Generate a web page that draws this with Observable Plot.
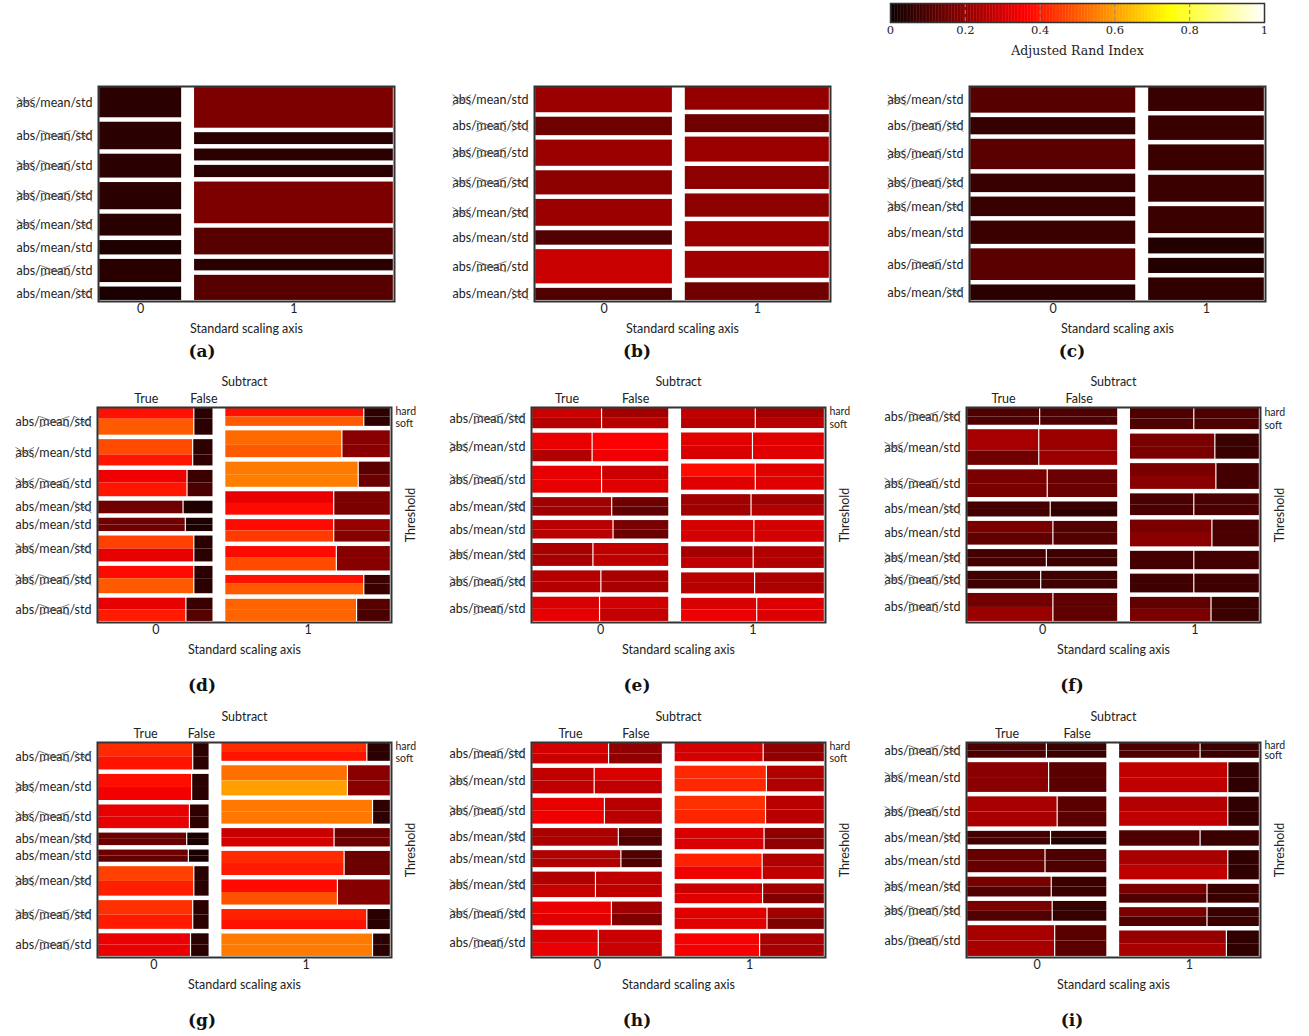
<!DOCTYPE html>
<html>
<head>
<meta charset="utf-8">
<script src="https://cdn.jsdelivr.net/npm/d3@7"></script>
<script src="https://cdn.jsdelivr.net/npm/@observablehq/plot@0.6"></script>
<style>
  body { margin: 0; background: #fff; }
  #page { position: relative; width: 1309px; height: 1036px; overflow: hidden; background: #fff; }
  #page svg { position: absolute; overflow: visible; }
  .cap { position: absolute; font-family: "DejaVu Serif", serif; font-weight: bold; font-size: 17px; color: #111;
         transform: translate(-50%, -50%); white-space: nowrap; }
</style>
</head>
<body>
<div id="page"></div>
<script>
// ---------------------------------------------------------------------------
// Categories
// ---------------------------------------------------------------------------
const scalingAxis = ["0", "1"];
const stepNames = ["abs", "mean", "std"];
// which normalisation steps are applied (1) or skipped (0): [abs, mean, std]
const combosTop = [[0,1,1],[1,0,0],[0,0,1],[0,0,0],[0,1,0],[1,1,1],[1,0,1],[1,1,0]];
const combosBottom = [[1,0,0],[0,1,1],[0,0,1],[1,1,0],[1,1,1],[0,1,0],[0,0,0],[1,0,1]];
const subtractLevels = ["True", "False"];
const thresholdLevels = ["hard", "soft"];
const colorTicks = [0, 0.2, 0.4, 0.6, 0.8, 1];
const panelTags = ["(a)", "(b)", "(c)", "(d)", "(e)", "(f)", "(g)", "(h)", "(i)"];

// ---------------------------------------------------------------------------
// Panels a–c: scaling axis × normalisation
// ---------------------------------------------------------------------------
const aColumnShare = [0.292, 0.708];
const aRowShare = [[30, 27.3, 23.7, 27, 21.7, 14.3, 23, 13.3], [40, 11.7, 11.7, 12, 41, 26.3, 11.3, 24.7]];
const aARI = [[0.047, 0.047, 0.047, 0.047, 0.044, 0.029, 0.045, 0.023], [0.171, 0.047, 0.047, 0.047, 0.171, 0.113, 0.047, 0.113]];

const bColumnShare = [0.487, 0.513];
const bRowShare = [[25, 18.3, 26, 24, 26.7, 14.3, 34, 12], [22.7, 18, 25, 23, 23.3, 25.3, 27, 17.7]];
const bARI = [[0.214, 0.148, 0.214, 0.193, 0.214, 0.107, 0.283, 0.104], [0.205, 0.148, 0.214, 0.193, 0.193, 0.214, 0.223, 0.151]];

const cColumnShare = [0.588, 0.412];
const cRowShare = [[25.3, 17, 30, 18.3, 19.3, 23, 31.3, 15.3], [23.7, 24.3, 25.7, 26.7, 26.7, 15.7, 15, 22.3]];
const cARI = [[0.113, 0.062, 0.119, 0.068, 0.068, 0.071, 0.119, 0.047], [0.068, 0.071, 0.071, 0.071, 0.071, 0.035, 0.035, 0.056]];

// ---------------------------------------------------------------------------
// Panels d–i: scaling axis × normalisation × subtract × threshold
// ARI per tile: [True-hard, True-soft, False-hard, False-soft]
// ---------------------------------------------------------------------------
const dColumnShare = [0.41, 0.59];
const dRowShare = [[26, 25.7, 25.7, 12.3, 13, 25.3, 26.7, 22.7], [17.7, 26.7, 25, 23.3, 22.3, 24.3, 19.3, 22]];
const dTrueShare = [[0.84, 0.83, 0.78, 0.745, 0.765, 0.84, 0.84, 0.77], [0.844, 0.71, 0.81, 0.66, 0.66, 0.676, 0.844, 0.80]];
const dHardShare = [[0.4, 0.58, 0.48, 0.5, 0.5, 0.5, 0.45, 0.5], [0.47, 0.54, 0.5, 0.5, 0.5, 0.45, 0.45, 0.5]];
const dARI = [
  [[0.389, 0.5, 0.047, 0.047], [0.476, 0.396, 0.053, 0.056], [0.343, 0.396, 0.071, 0.095], [0.151, 0.151, 0.029, 0.029],
   [0.151, 0.151, 0.023, 0.023], [0.461, 0.328, 0.047, 0.047], [0.380, 0.5, 0.047, 0.047], [0.331, 0.404, 0.071, 0.113]],
  [[0.389, 0.5, 0.053, 0.053], [0.523, 0.5, 0.19, 0.19], [0.547, 0.553, 0.119, 0.143], [0.331, 0.38, 0.171, 0.171],
   [0.38, 0.452, 0.208, 0.184], [0.38, 0.476, 0.184, 0.184], [0.389, 0.5, 0.071, 0.071], [0.514, 0.514, 0.113, 0.095]]
];

const eColumnShare = [0.488, 0.512];
const eRowShare = [[20, 28.3, 26.7, 18.3, 18.3, 22.7, 21.7, 24], [19.3, 25.7, 25.3, 20.7, 21, 21, 20.3, 22.3]];
const eTrueShare = [[0.51, 0.44, 0.51, 0.585, 0.595, 0.446, 0.505, 0.495], [0.52, 0.5, 0.52, 0.49, 0.51, 0.505, 0.515, 0.53]];
const eHardShare = [[0.45, 0.59, 0.5, 0.5, 0.5, 0.5, 0.5, 0.5], [0.45, 0.5, 0.5, 0.5, 0.5, 0.5, 0.5, 0.5]];
const eARI = [
  [[0.283, 0.253, 0.223, 0.259], [0.331, 0.247, 0.365, 0.343], [0.331, 0.331, 0.289, 0.319], [0.223, 0.223, 0.151, 0.127],
   [0.259, 0.259, 0.163, 0.143], [0.235, 0.235, 0.271, 0.271], [0.253, 0.253, 0.235, 0.235], [0.307, 0.331, 0.295, 0.277]],
  [[0.271, 0.259, 0.223, 0.259], [0.319, 0.307, 0.319, 0.319], [0.38, 0.319, 0.319, 0.319], [0.223, 0.223, 0.223, 0.253],
   [0.301, 0.301, 0.301, 0.301], [0.229, 0.271, 0.247, 0.247], [0.259, 0.259, 0.241, 0.241], [0.307, 0.337, 0.313, 0.313]]
];

const fColumnShare = [0.538, 0.462];
const fRowShare = [[16.7, 35.7, 27.7, 15, 23.7, 17.3, 17.7, 28], [21, 25, 25.7, 21.7, 26.7, 18.3, 18.7, 24]];
const fTrueShare = [[0.483, 0.477, 0.534, 0.554, 0.572, 0.528, 0.49, 0.572], [0.495, 0.66, 0.668, 0.495, 0.637, 0.495, 0.495, 0.63]];
const fHardShare = [[0.5, 0.6, 0.5, 0.5, 0.5, 0.5, 0.5, 0.5], [0.5, 0.5, 0.5, 0.5, 0.5, 0.5, 0.5, 0.5]];
const fARI = [
  [[0.101, 0.101, 0.101, 0.101], [0.235, 0.148, 0.214, 0.214], [0.166, 0.166, 0.143, 0.143], [0.086, 0.086, 0.068, 0.056],
   [0.166, 0.127, 0.107, 0.107], [0.086, 0.086, 0.077, 0.077], [0.077, 0.077, 0.077, 0.077], [0.154, 0.214, 0.127, 0.127]],
  [[0.101, 0.101, 0.101, 0.101], [0.166, 0.166, 0.071, 0.071], [0.166, 0.187, 0.086, 0.086], [0.095, 0.095, 0.095, 0.095],
   [0.166, 0.19, 0.095, 0.095], [0.086, 0.086, 0.086, 0.086], [0.077, 0.077, 0.077, 0.077], [0.127, 0.166, 0.071, 0.071]]
];

const gColumnShare = [0.396, 0.604];
const gRowShare = [[26, 25.7, 23.3, 12.3, 12, 29, 28.3, 22.3], [17.7, 30, 23.7, 18.3, 24, 25, 20, 22.3]];
const gTrueShare = [[0.86, 0.85, 0.83, 0.805, 0.82, 0.87, 0.86, 0.84], [0.866, 0.75, 0.9, 0.67, 0.73, 0.69, 0.866, 0.9]];
const gHardShare = [[0.5, 0.5, 0.5, 0.5, 0.5, 0.5, 0.5, 0.5], [0.5, 0.5, 0.5, 0.5, 0.5, 0.5, 0.5, 0.5]];
const gARI = [
  [[0.428, 0.392, 0.047, 0.047], [0.386, 0.35, 0.047, 0.047], [0.328, 0.328, 0.053, 0.053], [0.143, 0.143, 0.023, 0.023],
   [0.151, 0.127, 0.023, 0.023], [0.461, 0.41, 0.047, 0.047], [0.437, 0.404, 0.047, 0.047], [0.334, 0.334, 0.047, 0.047]],
  [[0.428, 0.392, 0.047, 0.047], [0.532, 0.604, 0.19, 0.19], [0.544, 0.544, 0.053, 0.053], [0.283, 0.301, 0.143, 0.143],
   [0.428, 0.404, 0.143, 0.143], [0.38, 0.485, 0.184, 0.184], [0.413, 0.389, 0.047, 0.047], [0.547, 0.547, 0.047, 0.047]]
];

const hColumnShare = [0.465, 0.535];
const hRowShare = [[20, 25, 25.3, 17.3, 16.7, 25, 23.3, 25.7], [17.7, 25, 27, 20.7, 24.7, 19.3, 20.7, 22]];
const hTrueShare = [[0.59, 0.478, 0.558, 0.666, 0.686, 0.488, 0.612, 0.51], [0.594, 0.616, 0.61, 0.6, 0.587, 0.59, 0.62, 0.57]];
const hHardShare = [[0.5, 0.5, 0.5, 0.5, 0.5, 0.5, 0.5, 0.5], [0.5, 0.5, 0.5, 0.5, 0.5, 0.5, 0.5, 0.5]];
const hARI = [
  [[0.301, 0.283, 0.199, 0.199], [0.271, 0.271, 0.307, 0.271], [0.328, 0.343, 0.259, 0.259], [0.238, 0.238, 0.127, 0.104],
   [0.247, 0.247, 0.104, 0.104], [0.247, 0.283, 0.271, 0.271], [0.334, 0.319, 0.223, 0.175], [0.307, 0.334, 0.283, 0.283]],
  [[0.301, 0.301, 0.199, 0.199], [0.425, 0.425, 0.247, 0.247], [0.437, 0.419, 0.259, 0.259], [0.307, 0.307, 0.199, 0.199],
   [0.413, 0.343, 0.247, 0.271], [0.283, 0.319, 0.223, 0.175], [0.319, 0.319, 0.223, 0.175], [0.352, 0.352, 0.235, 0.235]]
];

const iColumnShare = [0.499, 0.501];
const iRowShare = [[14.3, 29, 29.3, 13.3, 22.7, 19.3, 19.3, 30], [14.3, 29, 28.3, 15, 28.3, 18.3, 18.3, 24.7]];
const iTrueShare = [[0.57, 0.586, 0.648, 0.6, 0.56, 0.605, 0.612, 0.63], [0.58, 0.78, 0.78, 0.58, 0.78, 0.63, 0.63, 0.77]];
const iHardShare = [[0.5, 0.5, 0.5, 0.5, 0.5, 0.5, 0.5, 0.5], [0.5, 0.5, 0.5, 0.5, 0.5, 0.5, 0.5, 0.5]];
const iARI = [
  [[0.095, 0.095, 0.071, 0.071], [0.19, 0.19, 0.119, 0.119], [0.235, 0.235, 0.119, 0.119], [0.086, 0.086, 0.062, 0.035],
   [0.137, 0.137, 0.101, 0.101], [0.166, 0.104, 0.071, 0.071], [0.166, 0.104, 0.062, 0.062], [0.235, 0.235, 0.119, 0.119]],
  [[0.101, 0.101, 0.071, 0.071], [0.271, 0.271, 0.056, 0.056], [0.253, 0.271, 0.056, 0.056], [0.101, 0.101, 0.071, 0.071],
   [0.235, 0.271, 0.056, 0.056], [0.166, 0.104, 0.071, 0.071], [0.166, 0.104, 0.071, 0.071], [0.208, 0.235, 0.056, 0.056]]
];

// ---------------------------------------------------------------------------
// "hot" colour map (black → red → yellow → white)
// ---------------------------------------------------------------------------
function hot(t) {
  t = Math.max(0, Math.min(1, t));
  const k1 = 0.365079, k2 = 0.746032;
  const r = t < k1 ? 0.0416 + (1 - 0.0416) * t / k1 : 1;
  const g = t < k1 ? 0 : t < k2 ? (t - k1) / (k2 - k1) : 1;
  const b = t < k2 ? 0 : (t - k2) / (1 - k2);
  return `rgb(${Math.round(r * 255)},${Math.round(g * 255)},${Math.round(b * 255)})`;
}
const colorScale = {type: "linear", domain: [0, 1], interpolate: hot};

// ---------------------------------------------------------------------------
// Mosaic layout in the unit square (gaps shrink with each split level)
// ---------------------------------------------------------------------------
const GAP_COLUMN = 0.044, GAP_ROW = 0.021, GAP_SUBTRACT = 0.004;

function spans(share, gap) {
  const total = d3.sum(share), avail = 1 - gap * (share.length - 1);
  let p = 0;
  return share.map(s => { const w = s / total * avail; const span = [p, p + w]; p += w + gap; return span; });
}

function simpleMosaic(columnShare, rowShare, ari) {
  const cols = spans(columnShare, GAP_COLUMN);
  const rows = rowShare.map(r => spans(r, GAP_ROW));
  const tiles = cols.flatMap(([x1, x2], c) => rows[c].map(([y1, y2], r) => ({x1, x2, y1, y2, ari: ari[c][r]})));
  return {cols, rows, tiles};
}

function splitMosaic(columnShare, rowShare, trueShare, hardShare, ari) {
  const cols = spans(columnShare, GAP_COLUMN);
  const rows = rowShare.map(r => spans(r, GAP_ROW));
  const tiles = [];
  const cells = []; // per column/row: subtract and threshold split positions
  cols.forEach(([x1, x2], c) => {
    cells.push(rows[c].map(([y1, y2], r) => {
      const xt = x1 + (x2 - x1 - GAP_SUBTRACT) * trueShare[c][r];
      const xf = xt + GAP_SUBTRACT;
      const yh = y1 + (y2 - y1) * hardShare[c][r];
      const [th, ts, fh, fs] = ari[c][r];
      tiles.push({x1, x2: xt, y1, y2: yh, ari: th});
      tiles.push({x1, x2: xt, y1: yh, y2, ari: ts});
      tiles.push({x1: xf, x2, y1, y2: yh, ari: fh});
      tiles.push({x1: xf, x2, y1: yh, y2, ari: fs});
      return {x1, xt, xf, x2, y1, yh, y2};
    }));
  });
  return {cols, rows, tiles, cells};
}

// ---------------------------------------------------------------------------
// Drawing
// ---------------------------------------------------------------------------
const page = document.getElementById("page");
const SANS = "Lato, 'Open Sans', sans-serif";
const FRAME_H = 215, MT = 40, MB = 40, SVG_W = 430;

function drawPanel(m, combos, opts) {
  const {left, frameTop, frameLeft, frameWidth, split} = opts;
  const centers = m.cols.map(([a, b]) => (a + b) / 2);
  const labelRows = m.rows[0].map(([a, b], r) => ({y: (a + b) / 2, text: stepNames.join("/"), flags: combos[r]}));
  const marks = [
    Plot.rect(m.tiles, {x1: "x1", x2: "x2", y1: "y1", y2: "y2", fill: "ari"}),
    Plot.frame({stroke: "#333", strokeWidth: 2}),
    Plot.axisX({ticks: centers, tickFormat: d => d === centers[0] ? scalingAxis[0] : scalingAxis[1],
                tickSize: 0, tickPadding: 3, label: null, fill: "#222"}),
    Plot.text(["Standard scaling axis"], {text: d => d, frameAnchor: "bottom", lineAnchor: "middle", dy: 27, fill: "#222"}),
    Plot.text(labelRows, {y: "y", text: "text", frameAnchor: "left", textAnchor: "end", lineAnchor: "middle", dx: -6, fill: "#222"})
  ];
  if (split) {
    const c0 = m.cells[0][0], c1 = m.cells[1][0];
    const labelStyle = {frameAnchor: "right", textAnchor: "start", lineAnchor: "middle", dx: 4, fontSize: 10.5, fill: "#222"};
    marks.push(
      Plot.text(["Subtract"], {text: d => d, frameAnchor: "top", lineAnchor: "middle", dy: -26, fill: "#222"}),
      Plot.text(subtractLevels, {text: d => d, x: (d, i) => i === 0 ? (c0.x1 + c0.xt) / 2 : (c0.xf + c0.x2) / 2,
                                 frameAnchor: "top", lineAnchor: "middle", dy: -9, fill: "#222"}),
      // threshold levels of the first tile in column 1, nudged apart slightly
      Plot.text([thresholdLevels[0]], {text: d => d, y: () => (c1.y1 + c1.yh) / 2, dy: -1.5, ...labelStyle}),
      Plot.text([thresholdLevels[1]], {text: d => d, y: () => (c1.yh + c1.y2) / 2, dy: 1.5, ...labelStyle}),
      Plot.text(["Threshold"], {text: d => d, frameAnchor: "right", rotate: -90, textAnchor: "middle", lineAnchor: "middle", dx: 19, fill: "#222"})
    );
  }
  const svg = Plot.plot({
    width: SVG_W, height: MT + FRAME_H + MB,
    marginLeft: frameLeft, marginRight: SVG_W - frameLeft - frameWidth, marginTop: MT, marginBottom: MB,
    style: {fontFamily: SANS, fontSize: "12.5px", background: "transparent", color: "#222"},
    x: {domain: [-0.004, 1.004]},
    y: {domain: [-0.005, 1.005], reverse: true, axis: null},
    color: colorScale,
    marks
  });
  svg.style.left = left + "px";
  svg.style.top = (frameTop - MT) + "px";
  page.appendChild(svg);
  crossOut(svg, labelRows);
  return svg;
}

// draw an "x" over each skipped normalisation step in the row labels
function crossOut(svg, labelRows) {
  const ns = "http://www.w3.org/2000/svg";
  const word = stepNames.join("/");
  const texts = Array.from(svg.querySelectorAll("text")).filter(t => t.textContent === word);
  const ranges = [];
  let p = 0;
  stepNames.forEach(s => { ranges.push([p, p + s.length - 1]); p += s.length + 1; });
  const layer = document.createElementNS(ns, "g");
  svg.appendChild(layer);
  texts.forEach((t, k) => {
    const flags = labelRows[k].flags;
    const m = t.getCTM();
    const g = document.createElementNS(ns, "g");
    g.setAttribute("transform", `matrix(${m.a},${m.b},${m.c},${m.d},${m.e},${m.f})`);
    const fs = parseFloat(getComputedStyle(t).fontSize) || 12.5;
    ranges.forEach(([a, b], j) => {
      if (flags[j]) return;
      const x0 = t.getStartPositionOfChar(a).x, x1 = t.getEndPositionOfChar(b).x;
      const base = t.getStartPositionOfChar(a).y;
      const top = base - 0.76 * fs, bot = base + 0.1 * fs;
      [[x0, top, x1, bot], [x0, bot, x1, top]].forEach(([ax, ay, bx, by]) => {
        const l = document.createElementNS(ns, "line");
        l.setAttribute("x1", ax); l.setAttribute("y1", ay);
        l.setAttribute("x2", bx); l.setAttribute("y2", by);
        l.setAttribute("stroke", "#555"); l.setAttribute("stroke-width", "0.75");
        g.appendChild(l);
      });
    });
    layer.appendChild(g);
  });
}

function caption(text, x, y) {
  const d = document.createElement("div");
  d.className = "cap";
  d.textContent = text;
  d.style.left = x + "px";
  d.style.top = y + "px";
  page.appendChild(d);
}

// Top row
const topPanels = [
  simpleMosaic(aColumnShare, aRowShare, aARI),
  simpleMosaic(bColumnShare, bRowShare, bARI),
  simpleMosaic(cColumnShare, cRowShare, cARI)
];
const topLeft = [0, 436, 871];
topPanels.forEach((m, i) => drawPanel(m, combosTop, {left: topLeft[i], frameTop: 86, frameLeft: 98, frameWidth: 296, split: false}));

// Middle and bottom rows
const splitPanels = [
  splitMosaic(dColumnShare, dRowShare, dTrueShare, dHardShare, dARI),
  splitMosaic(eColumnShare, eRowShare, eTrueShare, eHardShare, eARI),
  splitMosaic(fColumnShare, fRowShare, fTrueShare, fHardShare, fARI),
  splitMosaic(gColumnShare, gRowShare, gTrueShare, gHardShare, gARI),
  splitMosaic(hColumnShare, hRowShare, hTrueShare, hHardShare, hARI),
  splitMosaic(iColumnShare, iRowShare, iTrueShare, iHardShare, iARI)
];
const splitLeft = [0, 434, 869];
splitPanels.forEach((m, i) => drawPanel(m, combosBottom, {
  left: splitLeft[i % 3], frameTop: i < 3 ? 407 : 742, frameLeft: 97, frameWidth: 294, split: true
}));

// Sub-figure tags
const tagX = [202, 637, 1072], tagY = [351, 685, 1020];
panelTags.forEach((t, i) => caption(t, tagX[i % 3], tagY[Math.floor(i / 3)]));

// Colour bar
const ramp = d3.range(0, 256).map(i => i / 256);
const bar = Plot.plot({
  width: 420, height: 62,
  marginLeft: 20, marginRight: 26, marginTop: 3, marginBottom: 40,
  style: {fontFamily: "'DejaVu Serif', serif", fontSize: "11.5px", background: "transparent", color: "#222"},
  x: {domain: [0, 1]},
  y: {domain: [0, 1], axis: null},
  color: colorScale,
  marks: [
    Plot.rect(ramp, {x1: d => d, x2: d => d + 1 / 256 + 0.001, y1: 0, y2: 1, fill: d => d + 0.5 / 256}),
    Plot.ruleX(colorTicks.slice(1, -1), {stroke: "#888", strokeDasharray: "4,3", strokeWidth: 1}),
    Plot.frame({stroke: "#333", strokeWidth: 1.5}),
    Plot.axisX({ticks: colorTicks, tickFormat: d => String(+d.toFixed(1)), tickSize: 0, tickPadding: 3, label: null, fill: "#222"}),
    Plot.text(["Adjusted Rand Index"], {text: d => d, frameAnchor: "bottom", lineAnchor: "middle", dy: 28, fontSize: 12.5, fill: "#222"})
  ]
});
bar.style.left = "870px";
bar.style.top = "0px";
page.appendChild(bar);
</script>
</body>
</html>
